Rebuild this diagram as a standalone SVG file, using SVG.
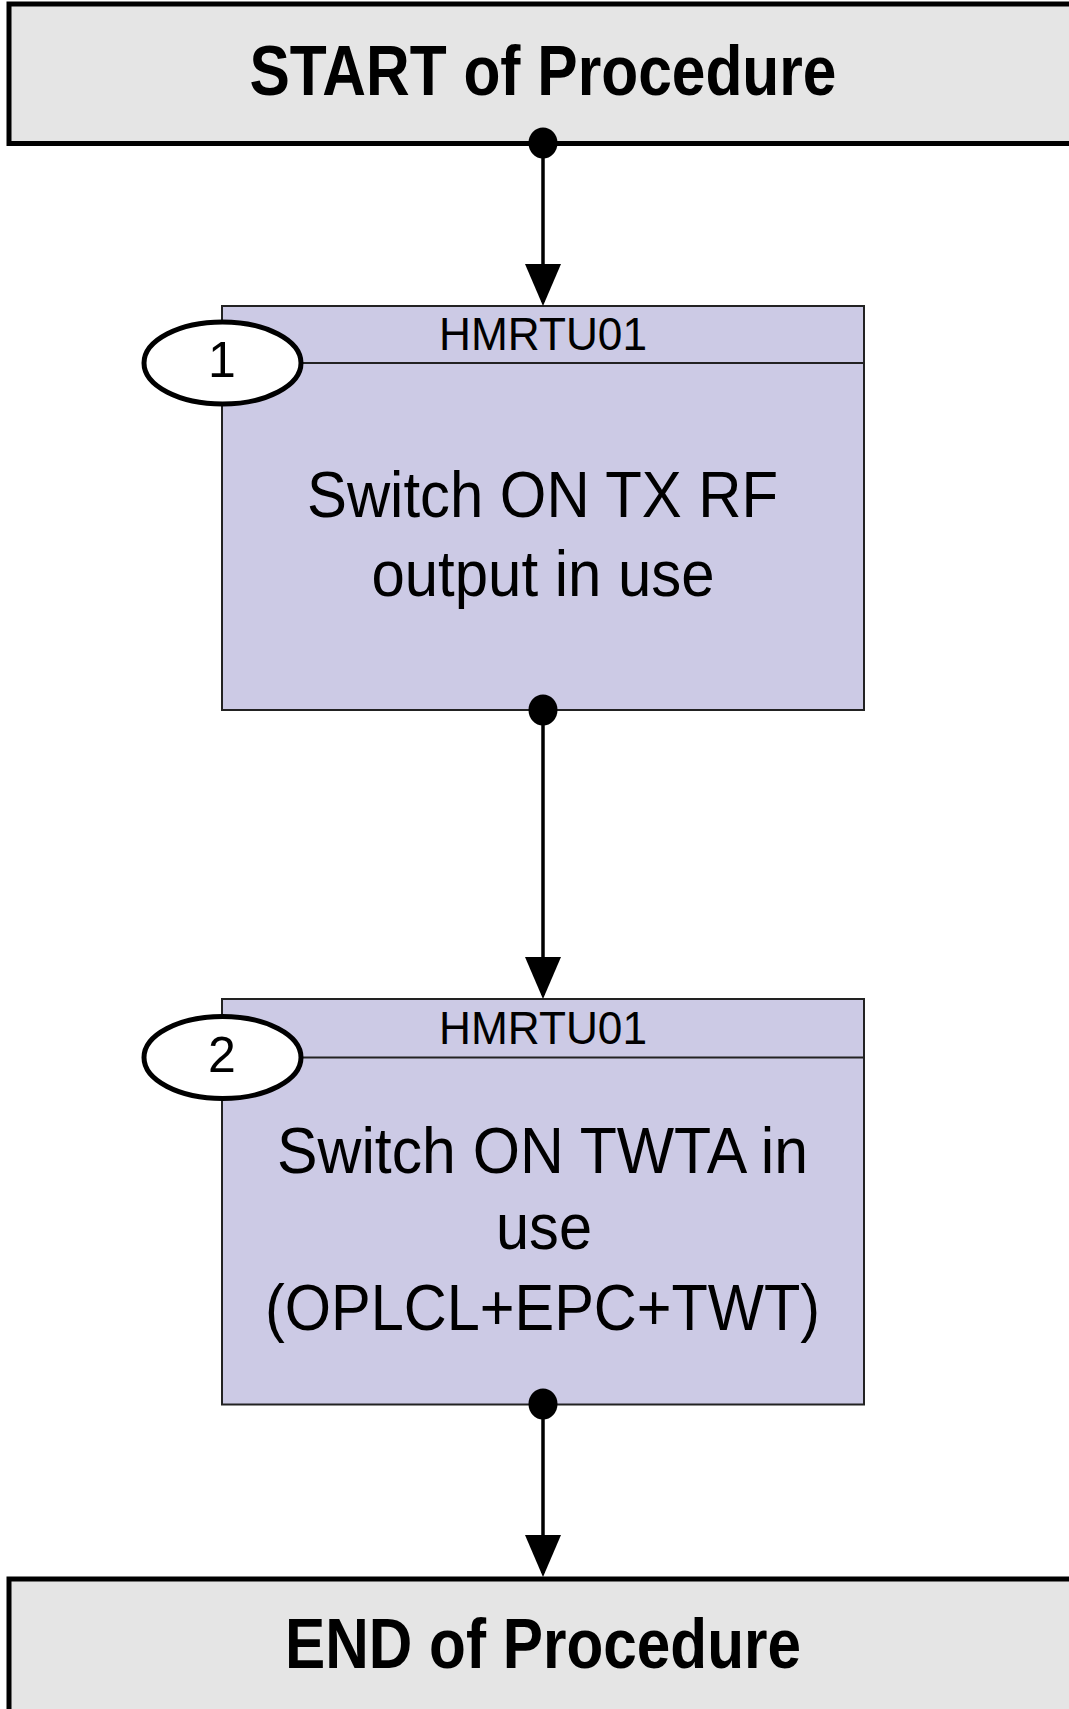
<svg xmlns="http://www.w3.org/2000/svg" width="1069" height="1709" viewBox="0 0 1069 1709">
<style>
.term{fill:#e5e5e5;stroke:#000;stroke-width:5}
.step{fill:#cccae5;stroke:#222;stroke-width:2}
.hdr{stroke:#222;stroke-width:2}
.num{fill:#fff;stroke:#000;stroke-width:5}
.t{font-family:"Liberation Sans",Arial,sans-serif;fill:#000;text-anchor:middle}
.big{font-size:70px;font-weight:bold}
.lbl{font-size:47px}
.main{font-size:65px}
.conn{stroke:#000;stroke-width:3.5;fill:none;marker-end:url(#arr)}
.dot{fill:#000}
</style>
<defs>
<marker id="arr" markerUnits="userSpaceOnUse" markerWidth="42" markerHeight="36" refX="38" refY="18" orient="auto" viewBox="0 0 42 36">
<path d="M0,0 L42,18 L0,36 Z" fill="#000"/>
</marker>
</defs>
<rect width="1069" height="1709" fill="#fff"/>
<g id="start">
<rect class="term" x="9" y="4" width="1100" height="139.5"/>
<text class="t big" x="543" y="95" textLength="587" lengthAdjust="spacingAndGlyphs">START of Procedure</text>
</g>
<g id="step1">
<rect class="step" x="222" y="306" width="642" height="404"/>
<line class="hdr" x1="222" y1="363" x2="864" y2="363"/>
<text class="t lbl" x="543" y="350" textLength="208" lengthAdjust="spacingAndGlyphs">HMRTU01</text>
<text class="t main" x="542.5" y="517" textLength="471" lengthAdjust="spacingAndGlyphs">Switch ON TX RF</text>
<text class="t main" x="543" y="596" textLength="343" lengthAdjust="spacingAndGlyphs">output in use</text>
<ellipse class="num" cx="222.5" cy="363" rx="78.5" ry="41"/>
<text class="t" x="222" y="377" style="font-size:50px">1</text>
</g>
<g id="step2">
<rect class="step" x="222" y="999" width="642" height="405.5"/>
<line class="hdr" x1="222" y1="1057.5" x2="864" y2="1057.5"/>
<text class="t lbl" x="543" y="1044" textLength="208" lengthAdjust="spacingAndGlyphs">HMRTU01</text>
<text class="t main" x="542.5" y="1173" textLength="531" lengthAdjust="spacingAndGlyphs">Switch ON TWTA in</text>
<text class="t main" x="544" y="1249" textLength="96" lengthAdjust="spacingAndGlyphs">use</text>
<text class="t main" x="542.5" y="1330" textLength="555" lengthAdjust="spacingAndGlyphs">(OPLCL+EPC+TWT)</text>
<ellipse class="num" cx="222.5" cy="1057.5" rx="78.5" ry="41"/>
<text class="t" x="222" y="1072" style="font-size:50px">2</text>
</g>
<g id="end">
<rect class="term" x="9" y="1579" width="1100" height="200"/>
<text class="t big" x="543" y="1668" textLength="516" lengthAdjust="spacingAndGlyphs">END of Procedure</text>
</g>
<g id="connectors">
<line class="conn" x1="543" y1="143" x2="543" y2="302"/>
<ellipse class="dot" cx="543" cy="143" rx="14.5" ry="15.5"/>
<line class="conn" x1="543" y1="710" x2="543" y2="995"/>
<ellipse class="dot" cx="543" cy="710" rx="14.5" ry="15.5"/>
<line class="conn" x1="543" y1="1404" x2="543" y2="1573"/>
<ellipse class="dot" cx="543" cy="1404" rx="14.5" ry="15.5"/>
</g>
</svg>
